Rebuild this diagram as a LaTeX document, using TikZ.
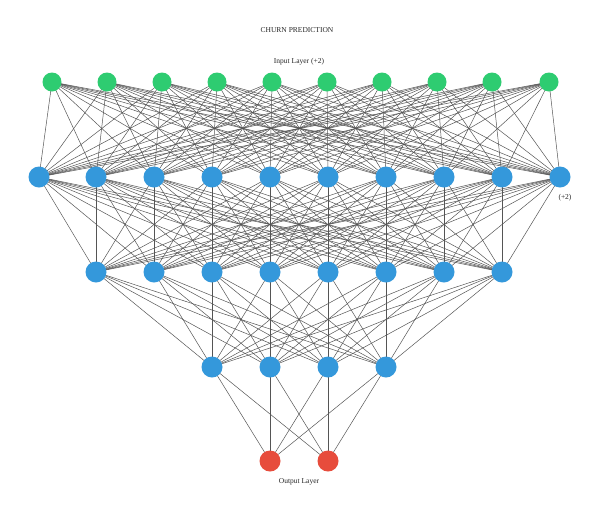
\documentclass[tikz,border=0pt]{standalone}
\usepackage{fontspec}
\setmainfont{Liberation Serif}
\definecolor{ingreen}{HTML}{2ECC71}
\definecolor{hidblue}{HTML}{3498DB}
\definecolor{outred}{HTML}{E74C3C}
\definecolor{edgegray}{HTML}{555555}
\pgfdeclarelayer{edges}
\pgfsetlayers{edges,main}
\begin{document}
\begin{tikzpicture}[x=1pt,y=-1pt,
  inneuron/.style={circle,fill=ingreen,minimum size=19pt,inner sep=0pt},
  hidneuron/.style={circle,fill=hidblue,minimum size=21pt,inner sep=0pt},
  outneuron/.style={circle,fill=outred,minimum size=21pt,inner sep=0pt},
  conn/.style={draw=edgegray,line width=0.5pt},
  lbl/.style={font=\fontsize{7.5}{9}\selectfont,text=black!85}]
\useasboundingbox (0,0) rectangle (600,512);
% nodes
\foreach \x [count=\i] in {52,107,162,217,272,327,382,437,492,549}
  \node[inneuron] (i\i) at (\x,82) {};
\foreach \x [count=\i] in {39,96,154,212,270,328,386,444,502,560}
  \node[hidneuron] (a\i) at (\x,177) {};
\foreach \x [count=\i] in {96,154,212,270,328,386,444,502}
  \node[hidneuron] (b\i) at (\x,272) {};
\foreach \x [count=\i] in {212,270,328,386}
  \node[hidneuron] (c\i) at (\x,367) {};
\foreach \x [count=\i] in {270,328}
  \node[outneuron] (o\i) at (\x,461) {};
% edges
\begin{pgfonlayer}{edges}
\fill[white] (0,0) rectangle (600,512);
\foreach \i in {1,...,10}
  \foreach \j in {1,...,10}
    \draw[conn] (i\i.center) -- (a\j.center);
\foreach \i in {1,...,10}
  \foreach \j in {1,...,8}
    \draw[conn] (a\i.center) -- (b\j.center);
\foreach \i in {1,...,8}
  \foreach \j in {1,...,4}
    \draw[conn] (b\i.center) -- (c\j.center);
\foreach \i in {1,...,4}
  \foreach \j in {1,2}
    \draw[conn] (c\i.center) -- (o\j.center);
\end{pgfonlayer}
% labels
\node[lbl] (title) at (297,30) {CHURN PREDICTION};
\node[lbl] (inlabel) at (299,62) {Input Layer (+2)};
\node[lbl] (hidplus) at (565,198) {(+2)};
\node[lbl] (outlabel) at (299,482) {Output Layer};
\end{tikzpicture}
\end{document}
